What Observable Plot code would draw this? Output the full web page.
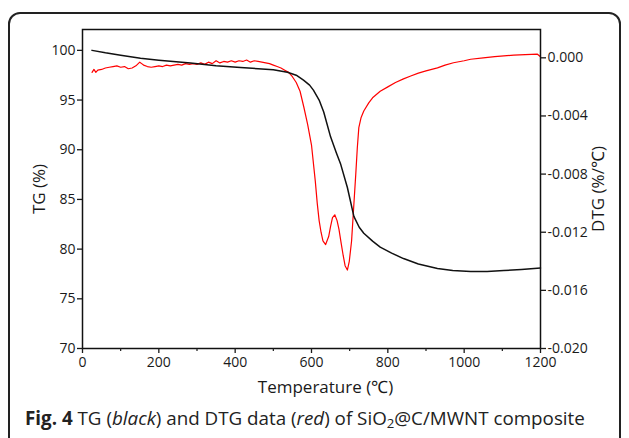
<!DOCTYPE html>
<html><head><meta charset="utf-8">
<script src="https://cdn.jsdelivr.net/npm/d3@7"></script>
<script src="https://cdn.jsdelivr.net/npm/@observablehq/plot@0.6"></script>
<style>
body{margin:0;background:#fff;width:629px;height:438px;overflow:hidden;position:relative;font-family:"Open Sans",sans-serif}
#box{position:absolute;left:8px;top:12px;width:613px;height:470px;border:2px solid #222;border-radius:12px;box-sizing:border-box}
#chart{position:absolute;left:0;top:0}
#cap{position:absolute;left:25px;top:406px;font-size:18.8px;line-height:24px;white-space:nowrap;color:#222}
#cap sub{font-size:0.7em;vertical-align:-0.2em;line-height:0}
</style></head><body>
<div id="box"></div><div id="chart"></div>
<div id="cap"><b>Fig. 4</b> TG (<i>black</i>) and DTG data (<i>red</i>) of SiO<sub>2</sub>@C/MWNT composite</div>
<script>
// TG curve (black): temperature (°C) and mass (%)
const tgTemp  = [25, 60, 100, 152, 200, 283, 350, 414, 460, 500, 537, 560, 579, 595, 605, 620, 632, 650, 665, 676, 694, 711, 725, 737, 760, 780, 810, 841, 880, 930, 970, 1017, 1060, 1104, 1150, 1200];
const tgValue = [100.0, 99.75, 99.5, 99.2, 99.0, 98.72, 98.45, 98.27, 98.15, 98.06, 97.8, 97.5, 97.0, 96.5, 96.0, 95.0, 93.8, 91.3, 89.7, 88.6, 86.2, 83.3, 82.2, 81.6, 80.8, 80.2, 79.6, 79.05, 78.5, 78.05, 77.85, 77.75, 77.75, 77.85, 77.95, 78.1];

// DTG curve (red): temperature (°C) and derivative (%/°C)
const dtgTemp = [25, 30, 35, 40, 50, 60, 70, 80, 90, 100, 110, 120, 130, 140, 150, 155, 160, 170, 180, 190, 200, 210, 220, 230, 240, 250, 260, 270, 280, 290, 300, 310, 320, 330, 340, 350, 360, 370, 380, 390, 400, 410, 420, 430, 440, 450, 460, 470, 480, 490, 500, 510, 520, 530, 540, 550, 560, 570, 580, 590, 600, 610, 615, 620, 625, 630, 637, 645, 650, 655, 661, 667, 672, 678, 683, 688, 694, 699, 705, 710, 716, 720, 724, 730, 737, 750, 760, 780, 800, 820, 841, 860, 880, 900, 930, 950, 972, 1000, 1017, 1050, 1080, 1104, 1130, 1160, 1192, 1200];
const dtgValue = [-0.00100, -0.00080, -0.00100, -0.00085, -0.00080, -0.00070, -0.00065, -0.00060, -0.00055, -0.00065, -0.00060, -0.00075, -0.00070, -0.00055, -0.00030, -0.00040, -0.00050, -0.00060, -0.00065, -0.00060, -0.00055, -0.00060, -0.00050, -0.00055, -0.00050, -0.00045, -0.00050, -0.00040, -0.00045, -0.00040, -0.00045, -0.00035, -0.00045, -0.00030, -0.00040, -0.00020, -0.00035, -0.00025, -0.00030, -0.00020, -0.00030, -0.00020, -0.00025, -0.00015, -0.00030, -0.00020, -0.00025, -0.00030, -0.00035, -0.00040, -0.00050, -0.00060, -0.00070, -0.00085, -0.00100, -0.00130, -0.00170, -0.00230, -0.00340, -0.00460, -0.00600, -0.00850, -0.01000, -0.01120, -0.01200, -0.01260, -0.01285, -0.01230, -0.01160, -0.01100, -0.01080, -0.01120, -0.01180, -0.01280, -0.01360, -0.01430, -0.01460, -0.01400, -0.01260, -0.01050, -0.00800, -0.00620, -0.00480, -0.00410, -0.00366, -0.00310, -0.00275, -0.00230, -0.00200, -0.00170, -0.00145, -0.00125, -0.00105, -0.00090, -0.00069, -0.00050, -0.00034, -0.00020, -0.00010, 0.00000, 0.00008, 0.00014, 0.00018, 0.00022, 0.00025, 0.00007];

// Axes
const xTicks = [0, 200, 400, 600, 800, 1000, 1200];
const xMinorTicks = [100, 300, 500, 700, 900, 1100];
const tgTicks = [70, 75, 80, 85, 90, 95, 100];
const dtgTicks = [0, -0.004, -0.008, -0.012, -0.016, -0.020];
const dtgLabels = ["0.000", "-0.004", "-0.008", "-0.012", "-0.016", "-0.020"];

// map DTG onto the TG scale (twin axis)
const tgMin = 70, tgAtDtgZero = 99.25, dtgMin = -0.020;
const toTG = d => tgMin + (d - dtgMin) / (0 - dtgMin) * (tgAtDtgZero - tgMin);
const dtgTickTG = dtgTicks.map(toTG);

const tgData = tgTemp.map((t, i) => ({t, v: tgValue[i]}));
const dtgData = dtgTemp.map((t, i) => ({t, v: toTG(dtgValue[i])}));

const W = 629, H = 400;
const chart = Plot.plot({
  width: W, height: H,
  marginLeft: 82, marginRight: 89, marginTop: 29, marginBottom: H - 348,
  style: {fontFamily: "'Open Sans', sans-serif", fontSize: "14px", color: "#1a1a1a", background: "transparent", overflow: "visible"},
  x: {domain: [0, 1200]},
  y: {domain: [70, 102.1]},
  marks: [
    Plot.line(dtgData, {x: "t", y: "v", stroke: "#ff0000", strokeWidth: 1.2}),
    Plot.line(tgData, {x: "t", y: "v", stroke: "#111", strokeWidth: 1.5}),
    Plot.frame({stroke: "#111", strokeWidth: 1.5}),
    Plot.axisX(xTicks, {tickSize: 5, tickPadding: 4, strokeWidth: 1.3, tickFormat: d => String(d), label: "Temperature (℃)", labelArrow: "none", labelAnchor: "center", labelOffset: 44}),
    Plot.axisX(xMinorTicks, {tickSize: 3, strokeWidth: 1.2, tickFormat: () => "", label: null}),
    Plot.axisY(tgTicks, {anchor: "left", tickSize: 5, tickPadding: 2, strokeWidth: 1.3, tickFormat: d => String(d), label: "TG (%)", labelArrow: "none", labelAnchor: "center", labelOffset: 50}),
    Plot.axisY(dtgTickTG, {anchor: "right", tickSize: 5, tickPadding: 2, strokeWidth: 1.3, tickFormat: d => dtgLabels[d3.minIndex(dtgTickTG, t => Math.abs(t - d))], label: "DTG (%/℃)", labelArrow: "none", labelAnchor: "center", labelOffset: 63})
  ]
});
document.getElementById("chart").appendChild(chart);
// axis titles: larger, no arrows
chart.querySelectorAll("g[aria-label='x-axis label'] text, g[aria-label='y-axis label'] text").forEach(t => {
  t.setAttribute("font-size", "17px");
  t.textContent = t.textContent.replace(/\s*[→↑←↓]\s*/g, "");
});
chart.querySelectorAll("g[aria-label='x-axis label'] text").forEach(t => t.setAttribute("dx", "14"));
</script>
</body></html>
